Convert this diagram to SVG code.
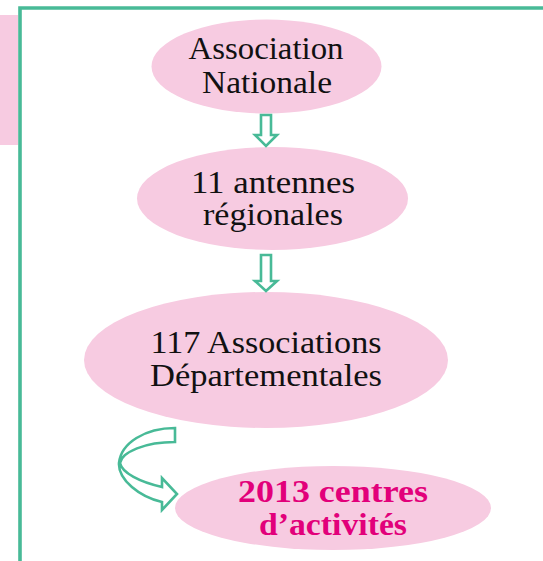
<svg xmlns="http://www.w3.org/2000/svg" width="543" height="561" viewBox="0 0 543 561">
<style>
.node{fill:#F7CBE1}
.t{font-family:"Liberation Serif","Times New Roman",serif;font-size:32.5px;fill:#111;text-anchor:middle}
.b{font-weight:bold;fill:#E2007A}
.arr{fill:#fff;stroke:#48BA97;stroke-width:2.6;stroke-linejoin:miter}
.frame{fill:none;stroke:#48BA97;stroke-width:3.6}
</style>
<rect x="0" y="15" width="18" height="130" fill="#F7CBE1"/>
<path class="frame" d="M20,561 V8 H543"/>
<g id="n1">
<ellipse class="node" cx="266.5" cy="66.5" rx="115" ry="47"/>
<text class="t" x="266" y="59" textLength="155" lengthAdjust="spacingAndGlyphs">Association</text>
<text class="t" x="267" y="93" textLength="130" lengthAdjust="spacingAndGlyphs">Nationale</text>
</g>
<g id="n2">
<ellipse class="node" cx="272.5" cy="198.5" rx="135.5" ry="51.5"/>
<text class="t" x="273" y="193" textLength="164" lengthAdjust="spacingAndGlyphs">11 antennes</text>
<text class="t" x="273" y="225" textLength="140" lengthAdjust="spacingAndGlyphs">régionales</text>
</g>
<g id="n3">
<ellipse class="node" cx="266" cy="360" rx="182" ry="68"/>
<text class="t" x="266" y="353" textLength="231" lengthAdjust="spacingAndGlyphs">117 Associations</text>
<text class="t" x="266" y="386" textLength="232" lengthAdjust="spacingAndGlyphs">Départementales</text>
</g>
<g id="n4">
<ellipse class="node" cx="333" cy="508" rx="158" ry="42"/>
<text class="t b" x="333" y="502" textLength="190" lengthAdjust="spacingAndGlyphs">2013 centres</text>
<text class="t b" x="333" y="535" textLength="148" lengthAdjust="spacingAndGlyphs">d’activités</text>
</g>
<g id="connectors">
<path class="arr" d="M261,115 H271 V135 H277 L266,146 L255,135 H261 Z"/>
<path class="arr" d="M261,255 H271 V281 H277 L266,291 L255,281 H261 Z"/>
<path class="arr" d="M175,428 C145,428 121,443 119,463 C118,480 140,497 162,502 L162,510 L177,494 L162,478 L162,487 C140,482 122,473 120,463 C122,452 145,442 175,442 Z"/>
</g>
</svg>
